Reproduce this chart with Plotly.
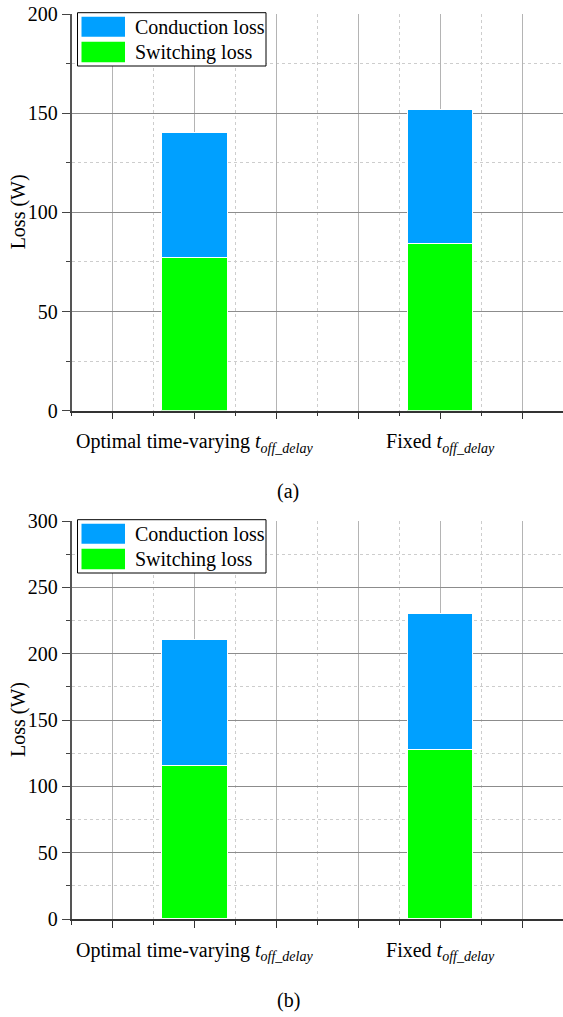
import plotly.graph_objects as go

# ---- data -------------------------------------------------------------
categories = [
    "Optimal time-varying <i>t</i><sub><i>off_delay</i></sub>",
    "Fixed <i>t</i><sub><i>off_delay</i></sub>",
]
series_names = ["Conduction loss", "Switching loss"]

# panel (a): loss components in W
switching_a = [76.8, 84.0]
conduction_a = [63.1, 67.6]

# panel (b): loss components in W
switching_b = [115.3, 127.1]
conduction_b = [95.2, 103.0]

y_max = [200, 300]
captions = ["(a)", "(b)"]

# ---- styling ----------------------------------------------------------
W, H = 563, 1017
FONT = "Liberation Serif"
BLUE = "#00a0ff"
GREEN = "#00ff00"
PLOT_LEFT = 71.5               # px, left edge of both plot areas
PANELS = [(14, 410.7), (521, 919)]  # (top px, bottom px) of each plot area
SLOTS = [1, 4]                 # x position of each category on the axis
BAR_WIDTH = 0.8


def fx(px):
    return px / W


def fy(px):
    return 1 - px / H


fig = go.Figure()

panel_data = [(switching_a, conduction_a), (switching_b, conduction_b)]
for i, (sw, cd) in enumerate(panel_data):
    xa = "x" if i == 0 else "x2"
    ya = "y" if i == 0 else "y2"
    fig.add_trace(go.Bar(
        x=SLOTS, y=sw, name=series_names[1], xaxis=xa, yaxis=ya,
        width=BAR_WIDTH, marker=dict(color=GREEN, line=dict(color="white", width=1)),
        showlegend=False, hoverinfo="skip",
    ))
    fig.add_trace(go.Bar(
        x=SLOTS, y=cd, name=series_names[0], xaxis=xa, yaxis=ya,
        width=BAR_WIDTH, marker=dict(color=BLUE, line=dict(color="white", width=1)),
        showlegend=False, hoverinfo="skip",
    ))

tick_text = ["", categories[0], "", "", categories[1], ""]


def x_axis(anchor):
    return dict(
        domain=[fx(PLOT_LEFT), 1], anchor=anchor, automargin=False,
        range=[-0.5, 5.5], fixedrange=True,
        tickmode="array", tickvals=list(range(6)), ticktext=tick_text,
        ticks="outside", ticklen=7, tickwidth=1, tickcolor="#333",
        showline=True, linecolor="#333", linewidth=1.5,
        showgrid=True, gridcolor="#b4b4b4", gridwidth=1,
        zeroline=False,
        minor=dict(tickvals=[k - 0.5 for k in range(7)], ticks="outside", ticklen=4,
                   tickcolor="#333", showgrid=True, gridcolor="#cdcdcd",
                   griddash="dot", gridwidth=1),
        tickfont=dict(family=FONT, size=20, color="black"),
        ticklabelstandoff=5,
    )


def y_axis(top, bottom, anchor, ymax):
    return dict(
        domain=[fy(bottom), fy(top)], anchor=anchor, automargin=False,
        range=[0, ymax], fixedrange=True,
        tickmode="linear", tick0=0, dtick=50,
        ticks="outside", ticklen=8, tickwidth=1, tickcolor="#444",
        showline=True, linecolor="#555", linewidth=1.5,
        showgrid=True, gridcolor="#8c8c8c", gridwidth=1,
        zeroline=False,
        minor=dict(tickvals=list(range(25, ymax, 50)), ticks="outside", ticklen=4,
                   tickcolor="#444", showgrid=True, gridcolor="#cdcdcd",
                   griddash="dot", gridwidth=1),
        tickfont=dict(family=FONT, size=20, color="black"),
    )


(t0, b0), (t1, b1) = PANELS
fig.update_layout(
    xaxis=x_axis("y"),
    yaxis=y_axis(t0, b0, "x", y_max[0]),
    xaxis2=x_axis("y2"),
    yaxis2=y_axis(t1, b1, "x2", y_max[1]),
)

shapes = []
annotations = []
for i, (top, bottom) in enumerate(PANELS):
    ya = "y" if i == 0 else "y2"
    xa = "x" if i == 0 else "x2"
    # the plot area has no frame on top: mask the grid line on the top edge
    shapes.append(dict(type="line", xref=f"{xa} domain", yref=f"{ya} domain", layer="below",
                       x0=0.003, x1=1, y0=1, y1=1, line=dict(color="white", width=2)))
    # legend box in the upper-left corner of each plot
    lx, ly = PLOT_LEFT, top
    shapes.append(dict(type="rect", xref="paper", yref="paper", layer="above",
                       x0=fx(lx + 6), x1=fx(lx + 194.5), y0=fy(ly + 52), y1=fy(ly - 1.3),
                       fillcolor="white", line=dict(color="black", width=1)))
    for j, (name, color, (s0, s1)) in enumerate(zip(
            series_names, [BLUE, GREEN], [(2.7, 22.7), (27.7, 48.3)])):
        shapes.append(dict(type="rect", xref="paper", yref="paper", layer="above",
                           x0=fx(lx + 10), x1=fx(lx + 53.5), y0=fy(ly + s1), y1=fy(ly + s0),
                           fillcolor=color, line=dict(width=0)))
        annotations.append(dict(xref="paper", yref="paper", x=fx(lx + 61), y=fy(ly + (s0 + s1) / 2),
                                text=name, showarrow=False, xanchor="left", yanchor="middle",
                                font=dict(family=FONT, size=20, color="black")))
    # y-axis title
    annotations.append(dict(xref="paper", yref="paper", x=fx(18), y=fy((top + bottom) / 2),
                            text="Loss (W)", textangle=-90, showarrow=False,
                            xanchor="center", yanchor="middle",
                            font=dict(family=FONT, size=20, color="black")))
    # panel caption
    annotations.append(dict(xref="paper", yref="paper", x=fx(288), y=fy(bottom + 81),
                            text=captions[i], showarrow=False,
                            xanchor="center", yanchor="middle",
                            font=dict(family=FONT, size=20, color="black")))

fig.update_layout(
    width=W, height=H,
    margin=dict(l=0, r=0, t=0, b=0, autoexpand=False),
    barmode="stack",
    bargap=0,
    paper_bgcolor="white", plot_bgcolor="white",
    showlegend=False,
    shapes=shapes, annotations=annotations,
)

fig.write_html("out.html", config=dict(displayModeBar=False))
